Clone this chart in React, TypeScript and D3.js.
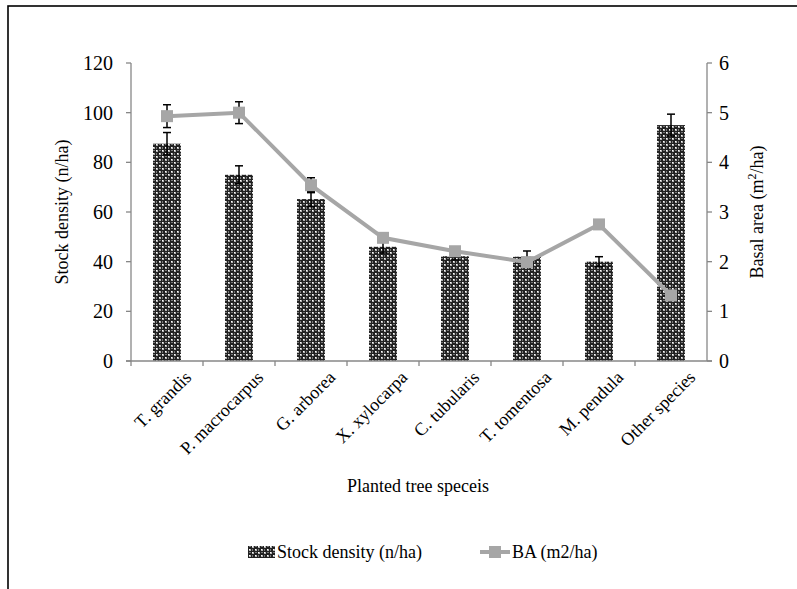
import React from "react";
import * as d3 from "d3";

const categories = ["T. grandis", "P. macrocarpus", "G. arborea", "X. xylocarpa", "C. tubularis", "T. tomentosa", "M. pendula", "Other species"];
const stockDensity = [87.5, 75, 65.2, 46, 42.2, 42, 40, 95];
const stockErr = [4.5, 3.6, 3, 2.5, 1.5, 2.3, 2, 4.4];
const basalArea = [4.93, 5.0, 3.54, 2.48, 2.21, 1.99, 2.75, 1.32];
const basalErr = [0.23, 0.22, 0.15, 0.08, 0.06, 0.06, 0.08, 0.08];
const leftTicks = [0, 20, 40, 60, 80, 100, 120];
const rightTicks = [0, 1, 2, 3, 4, 5, 6];

const W = 797, H = 589;
const plot = { left: 131, right: 707, top: 63, bottom: 361 };
const font = "Liberation Serif, Times New Roman, serif";
const axisGray = "#878787";
const lineGray = "#a6a6a6";

export default function App() {
  const band = d3.scaleBand<string>().domain(categories).range([plot.left, plot.right]);
  const yL = d3.scaleLinear().domain([0, 120]).range([plot.bottom, plot.top]);
  const yR = d3.scaleLinear().domain([0, 6]).range([plot.bottom, plot.top]);
  const cx = (c: string) => (band(c) as number) + band.bandwidth() / 2;
  const bw = 28;
  const line = d3.line<number>().x((_, i) => cx(categories[i])).y((v) => yR(v));
  const cap = 4;
  const ts = { fontFamily: font };

  return (
    <svg width={W} height={H} style={{ position: "absolute", left: 0, top: 0, background: "#fff", fontFamily: font }}>
      <defs>
        <pattern id="chk" width="6" height="6" patternUnits="userSpaceOnUse">
          <rect width="6" height="6" fill="#222" />
          <rect x="0" y="0" width="2" height="2" fill="#b4b4b4" />
          <rect x="3" y="3" width="2" height="2" fill="#b4b4b4" />
          <rect x="0" y="0" width="1" height="1" fill="#ffffff" />
          <rect x="3" y="3" width="1" height="1" fill="#ffffff" />
          <rect x="3" y="0" width="2" height="1" fill="#777" />
          <rect x="0" y="3" width="1" height="2" fill="#777" />
        </pattern>
      </defs>
      <rect x={8} y={6} width={W} height={H} fill="none" stroke="#000" strokeWidth={1.6} />

      {/* bars */}
      {categories.map((c, i) => (
        <rect key={c} x={cx(c) - bw / 2} y={yL(stockDensity[i])} width={bw} height={yL(0) - yL(stockDensity[i])} fill="url(#chk)" />
      ))}
      {categories.map((c, i) => {
        const xx = cx(c);
        const t = yL(stockDensity[i] + stockErr[i]);
        const b = yL(stockDensity[i] - stockErr[i]);
        return (
          <g key={"e" + c} stroke="#000" strokeWidth={1.5}>
            <line x1={xx} x2={xx} y1={t} y2={b} />
            <line x1={xx - cap} x2={xx + cap} y1={t} y2={t} />
            <line x1={xx - cap} x2={xx + cap} y1={b} y2={b} />
          </g>
        );
      })}

      {/* axes */}
      <line x1={plot.left} x2={plot.left} y1={plot.top} y2={plot.bottom} stroke={axisGray} strokeWidth={1.3} />
      <line x1={plot.right} x2={plot.right} y1={plot.top} y2={plot.bottom} stroke={axisGray} strokeWidth={1.3} />
      <line x1={plot.left - 5} x2={plot.right + 5} y1={plot.bottom} y2={plot.bottom} stroke={axisGray} strokeWidth={1.3} />
      {leftTicks.map((t) => (
        <g key={"l" + t}>
          <line x1={plot.left - 5} x2={plot.left} y1={yL(t)} y2={yL(t)} stroke={axisGray} strokeWidth={1.3} />
          <text x={plot.left - 18} y={yL(t)} dy="0.35em" textAnchor="end" fontSize={20} style={ts}>{t}</text>
        </g>
      ))}
      {rightTicks.map((t) => (
        <g key={"r" + t}>
          <line x1={plot.right} x2={plot.right + 5} y1={yR(t)} y2={yR(t)} stroke={axisGray} strokeWidth={1.3} />
          <text x={plot.right + 12} y={yR(t)} dy="0.35em" textAnchor="start" fontSize={20} style={ts}>{t}</text>
        </g>
      ))}
      {categories.map((c) => (
        <line key={"t" + c} x1={band(c) as number} x2={band(c) as number} y1={plot.bottom} y2={plot.bottom + 5} stroke={axisGray} strokeWidth={1.3} />
      ))}
      {categories.map((c) => (
        <text key={"c" + c} transform={`translate(${cx(c) + 21},${plot.bottom + 13}) rotate(-45)`} textAnchor="end" fontSize={18} dy="0.35em" style={ts}>{c}</text>
      ))}

      {/* BA line */}
      <path d={line(basalArea) as string} fill="none" stroke={lineGray} strokeWidth={4} />
      {categories.map((c, i) => {
        const xx = cx(c);
        const t = yR(basalArea[i] + basalErr[i]);
        const b = yR(basalArea[i] - basalErr[i]);
        return (
          <g key={"be" + c} stroke="#000" strokeWidth={1.5}>
            <line x1={xx} x2={xx} y1={t} y2={b} />
            <line x1={xx - cap} x2={xx + cap} y1={t} y2={t} />
            <line x1={xx - cap} x2={xx + cap} y1={b} y2={b} />
          </g>
        );
      })}
      {categories.map((c, i) => (
        <rect key={"m" + c} x={cx(c) - 6} y={yR(basalArea[i]) - 6} width={12} height={12} fill={lineGray} />
      ))}

      {/* titles */}
      <text transform={`translate(68,${(plot.top + plot.bottom) / 2}) rotate(-90)`} textAnchor="middle" fontSize={18} style={ts}>Stock density (n/ha)</text>
      <text transform={`translate(763,${(plot.top + plot.bottom) / 2}) rotate(-90)`} textAnchor="middle" fontSize={18} style={ts}>
        Basal area (m<tspan dy="-7" fontSize={12}>2</tspan><tspan dy="7">/ha)</tspan>
      </text>
      <text x={418} y={492} textAnchor="middle" fontSize={18} style={ts}>Planted tree speceis</text>

      {/* legend */}
      <rect x={248} y={546} width={27} height={12} fill="url(#chk)" />
      <text x={277} y={558} fontSize={18} style={ts}>Stock density (n/ha)</text>
      <line x1={480} x2={510} y1={552} y2={552} stroke={lineGray} strokeWidth={4} />
      <rect x={489} y={546} width={12} height={12} fill={lineGray} />
      <text x={512} y={558} fontSize={18} style={ts}>BA (m2/ha)</text>
    </svg>
  );
}
